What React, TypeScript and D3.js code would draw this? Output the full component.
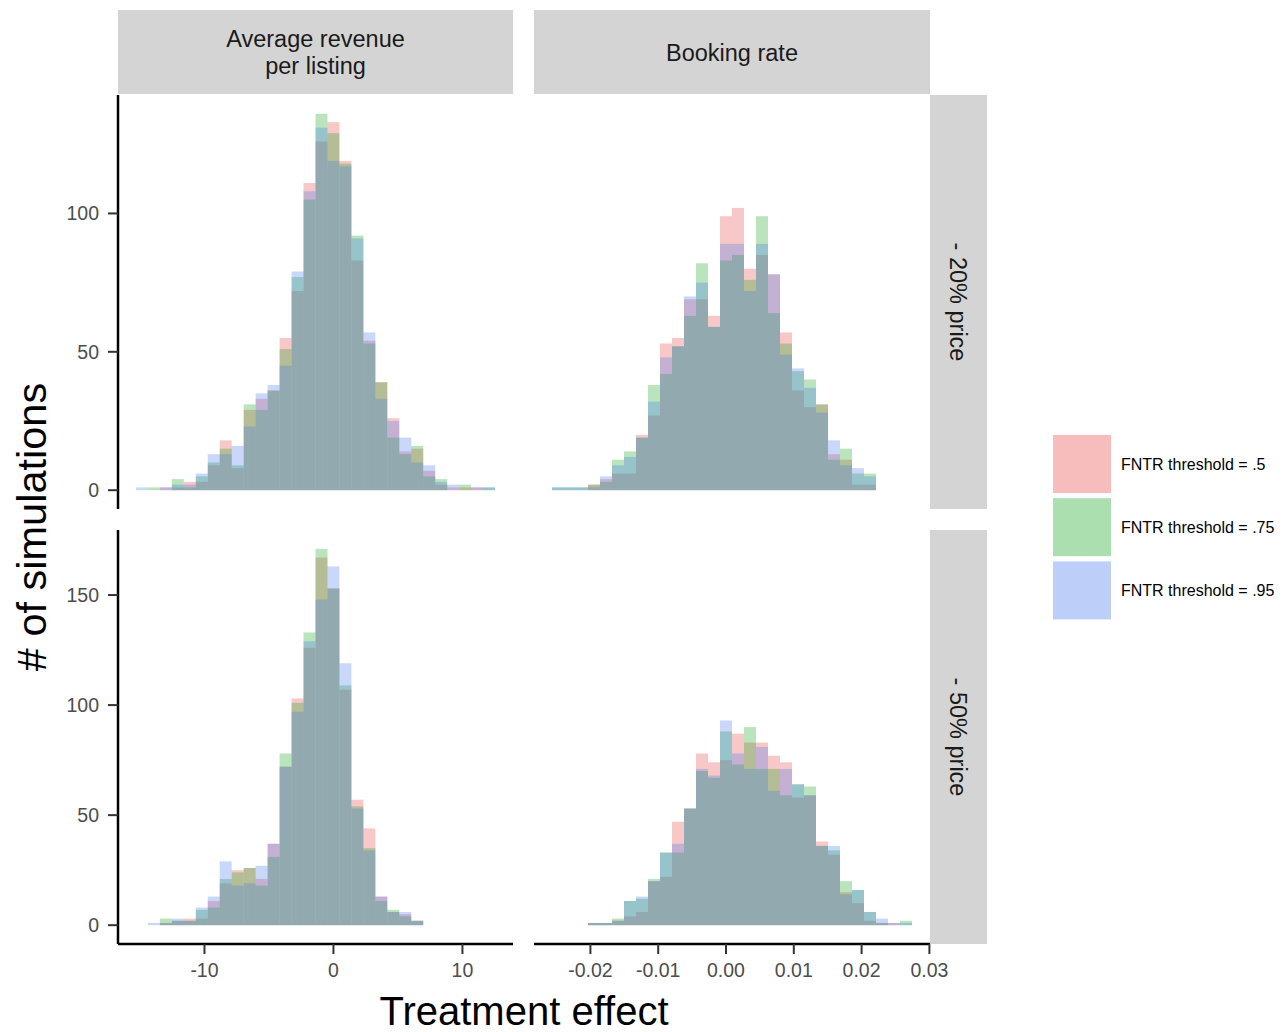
import React from "react";
import * as d3 from "d3";

// ---- data ----
const seriesNames = ["FNTR threshold = .5", "FNTR threshold = .75", "FNTR threshold = .95"];
const seriesColors = ["rgb(232,72,72)", "rgb(22,165,32)", "rgb(72,122,238)"];
const colLabels = ["Average revenue\nper listing", "Booking rate"];
const rowLabels = ["- 20% price", "- 50% price"];

// bin widths and first bin index (bins centred on k*width)
const binWidthLeft = 0.928;
const binWidthRight = 0.00177;
const firstBinLeft = -16;
const firstBinRight = -14;
const nBins = 30;

const xTicksLeft = [-10, 0, 10];
const xTicksRight = [-0.02, -0.01, 0.0, 0.01, 0.02, 0.03];
const yTicksTop = [0, 50, 100];
const yTicksBottom = [0, 50, 100, 150];

// Top-left: Average revenue, -20% price (bins k=-16..13)
const revTopPink = [0, 0, 1, 1, 3, 3, 9, 18, 8, 29, 33, 36, 55, 72, 111, 126, 133, 119, 83, 54, 39, 26, 14, 15, 7, 2, 1, 1, 1, 0];
const revTopGreen = [0, 1, 0, 4, 1, 5, 10, 15, 9, 31, 29, 36, 51, 77, 105, 136, 129, 118, 92, 53, 39, 19, 13, 16, 5, 4, 0, 2, 0, 1];
const revTopBlue = [1, 0, 1, 2, 2, 6, 13, 13, 16, 23, 35, 38, 45, 79, 108, 131, 119, 117, 91, 57, 33, 25, 19, 10, 9, 3, 2, 0, 1, 1];

// Top-right: Booking rate, -20% price (bins k=-14..15)
const bookTopPink = [0, 0, 0, 2, 4, 6, 6, 20, 27, 53, 55, 69, 69, 63, 99, 102, 80, 85, 78, 57, 36, 30, 31, 13, 11, 2, 2, 0, 0, 0];
const bookTopGreen = [1, 1, 1, 2, 3, 11, 14, 19, 38, 42, 52, 63, 82, 59, 83, 85, 76, 99, 64, 53, 43, 40, 31, 11, 15, 6, 6, 0, 0, 0];
const bookTopBlue = [1, 1, 1, 1, 5, 9, 12, 19, 32, 48, 52, 70, 75, 59, 89, 89, 72, 89, 78, 49, 44, 37, 28, 18, 9, 8, 5, 0, 0, 0];

// Bottom-left: Average revenue, -50% price (bins k=-16..13)
const revBotPink = [0, 0, 1, 2, 3, 3, 11, 19, 25, 26, 21, 37, 72, 103, 126, 167, 153, 107, 57, 44, 13, 6, 5, 2, 0, 0, 0, 0, 0, 0];
const revBotGreen = [0, 0, 3, 2, 2, 7, 8, 21, 24, 26, 18, 31, 78, 101, 133, 171, 153, 109, 54, 35, 11, 7, 4, 2, 0, 0, 0, 0, 0, 0];
const revBotBlue = [0, 1, 1, 3, 2, 8, 13, 29, 18, 19, 27, 37, 72, 97, 129, 148, 163, 119, 53, 34, 13, 6, 6, 2, 0, 0, 0, 0, 0, 0];

// Bottom-right: Booking rate, -50% price (bins k=-14..15)
const bookBotPink = [0, 0, 0, 1, 1, 2, 4, 6, 20, 22, 47, 53, 78, 74, 75, 87, 83, 83, 77, 74, 58, 59, 38, 32, 15, 10, 2, 1, 1, 0];
const bookBotGreen = [0, 0, 0, 1, 1, 3, 11, 12, 21, 33, 33, 53, 70, 67, 88, 73, 90, 71, 71, 59, 64, 63, 36, 34, 20, 16, 6, 1, 0, 2];
const bookBotBlue = [0, 0, 0, 1, 1, 2, 11, 13, 20, 33, 37, 53, 71, 68, 93, 78, 71, 81, 61, 71, 64, 59, 36, 36, 14, 16, 6, 3, 1, 1];

// ---- layout ----
const FONT = "'Liberation Sans', Arial, Helvetica, sans-serif";
const colX = [
  [118, 513],
  [534, 930],
];
const rowY = [
  [95, 509],
  [530, 944],
];
const stripTop = [10, 94];
const stripRight = [930, 987];
const ALPHA = 0.3;
const LEGEND_ALPHA = 0.36;

function makeX(col: number) {
  const w = col === 0 ? binWidthLeft : binWidthRight;
  const k0 = col === 0 ? firstBinLeft : firstBinRight;
  const lo = (k0 - 0.5) * w;
  const hi = (k0 + nBins - 0.5) * w;
  const pad = (hi - lo) * 0.05;
  return d3.scaleLinear().domain([lo - pad, hi + pad]).range(colX[col]);
}

function makeY(row: number, maxVal: number) {
  const pad = maxVal * 0.05;
  return d3.scaleLinear().domain([-pad, maxVal + pad]).range([rowY[row][1], rowY[row][0]]);
}

const panels = [
  { row: 0, col: 0, series: [revTopPink, revTopGreen, revTopBlue] },
  { row: 0, col: 1, series: [bookTopPink, bookTopGreen, bookTopBlue] },
  { row: 1, col: 0, series: [revBotPink, revBotGreen, revBotBlue] },
  { row: 1, col: 1, series: [bookBotPink, bookBotGreen, bookBotBlue] },
];

export default function App() {
  const xScales = [makeX(0), makeX(1)];
  const rowMax = [0, 1].map((r) =>
    d3.max(panels.filter((p) => p.row === r).flatMap((p) => p.series.flat())) as number
  );
  const yScales = [makeY(0, rowMax[0]), makeY(1, rowMax[1])];

  return (
    <svg width={1288} height={1032} style={{ position: "absolute", left: 0, top: 0, background: "#fff" }} fontFamily={FONT}>
      <rect x={0} y={0} width={1288} height={1032} fill="#fff" />
      {/* bars */}
      {panels.map((p, pi) => {
        const x = xScales[p.col];
        const y = yScales[p.row];
        const w = p.col === 0 ? binWidthLeft : binWidthRight;
        const k0 = p.col === 0 ? firstBinLeft : firstBinRight;
        return (
          <g key={pi}>
            {p.series.map((vals, si) => (
              <g key={si} fill={seriesColors[si]} fillOpacity={ALPHA}>
                {vals.map((v, i) => {
                  if (v <= 0) return null;
                  const c = (k0 + i) * w;
                  const x0 = x(c - w / 2);
                  const x1 = x(c + w / 2);
                  return <rect key={i} x={x0} y={y(v)} width={x1 - x0} height={y(0) - y(v)} />;
                })}
              </g>
            ))}
          </g>
        );
      })}

      {/* top strips */}
      {[0, 1].map((c) => {
        const lines = colLabels[c].split("\n");
        const cx = (colX[c][0] + colX[c][1]) / 2;
        const cy = (stripTop[0] + stripTop[1]) / 2;
        return (
          <g key={c}>
            <rect x={colX[c][0]} y={stripTop[0]} width={colX[c][1] - colX[c][0]} height={stripTop[1] - stripTop[0]} fill="#D4D4D4" />
            <text x={cx} y={cy} textAnchor="middle" fontSize={23.5} fill="#1A1A1A">
              {lines.map((l, i) => (
                <tspan key={i} x={cx} dy={i === 0 ? (-(lines.length - 1) / 2) * 27 + 8.5 : 27}>
                  {l}
                </tspan>
              ))}
            </text>
          </g>
        );
      })}

      {/* right strips */}
      {[0, 1].map((r) => {
        const cx = (stripRight[0] + stripRight[1]) / 2;
        const cy = (rowY[r][0] + rowY[r][1]) / 2;
        return (
          <g key={r}>
            <rect x={stripRight[0]} y={rowY[r][0]} width={stripRight[1] - stripRight[0]} height={rowY[r][1] - rowY[r][0]} fill="#D4D4D4" />
            <text transform={`translate(${cx},${cy}) rotate(90)`} textAnchor="middle" dy={8.5} fontSize={23.5} fill="#1A1A1A">
              {rowLabels[r]}
            </text>
          </g>
        );
      })}

      {/* y axes */}
      {[0, 1].map((r) => {
        const y = yScales[r];
        const ticks = r === 0 ? yTicksTop : yTicksBottom;
        return (
          <g key={r}>
            <line x1={118} x2={118} y1={rowY[r][0]} y2={rowY[r][1]} stroke="#000" strokeWidth={2.5} />
            {ticks.map((t) => (
              <g key={t}>
                <line x1={108} x2={118} y1={y(t)} y2={y(t)} stroke="#333" strokeWidth={2} />
                <text x={99} y={y(t)} dy={7} textAnchor="end" fontSize={19.5} fill="#4D4D4D">
                  {t}
                </text>
              </g>
            ))}
          </g>
        );
      })}

      {/* x axes */}
      {[0, 1].map((c) => {
        const x = xScales[c];
        const ticks = c === 0 ? xTicksLeft : xTicksRight;
        const fmt = c === 0 ? d3.format("d") : d3.format(".2f");
        return (
          <g key={c}>
            <line x1={colX[c][0]} x2={colX[c][1]} y1={944} y2={944} stroke="#000" strokeWidth={2.5} />
            {ticks.map((t) => (
              <g key={t}>
                <line x1={x(t)} x2={x(t)} y1={944} y2={954} stroke="#333" strokeWidth={2} />
                <text x={x(t)} y={977} textAnchor="middle" fontSize={19.5} fill="#4D4D4D">
                  {fmt(t).replace("\u2212", "-").replace("-0.00", "0.00")}
                </text>
              </g>
            ))}
          </g>
        );
      })}

      {/* axis titles */}
      <text x={524} y={1025} textAnchor="middle" fontSize={40} fill="#000">
        Treatment effect
      </text>
      <text transform={`translate(46,527) rotate(-90)`} textAnchor="middle" fontSize={41.5} fill="#000">
        # of simulations
      </text>

      {/* legend */}
      {seriesNames.map((name, i) => {
        const y0 = 435 + i * 63.2;
        return (
          <g key={i}>
            <rect x={1053} y={y0} width={58} height={58} fill={seriesColors[i]} fillOpacity={LEGEND_ALPHA} />
            <text x={1121} y={y0 + 29} dy={5.7} fontSize={16} fill="#000">
              {name}
            </text>
          </g>
        );
      })}
    </svg>
  );
}
